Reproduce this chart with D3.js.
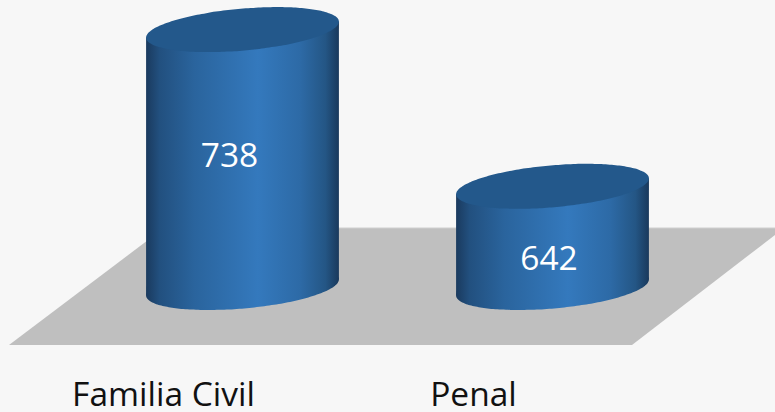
<!DOCTYPE html>
<html>
<head>
<meta charset="utf-8">
<script src="https://cdn.jsdelivr.net/npm/d3@7/dist/d3.min.js"></script>
<style>
  html, body { margin: 0; padding: 0; background: #f7f7f7; }
  svg { display: block; }
  text { font-family: "Open Sans", "Noto Sans", sans-serif; }
</style>
</head>
<body>
<script>
// Cases by jurisdiction
const categories = ["Familia Civil", "Penal"];
const values = [738, 642];
const axisMin = 580;
const axisMax = 760;

const W = 775, H = 412;
const svg = d3.select("body").append("svg")
  .attr("width", W).attr("height", H);

svg.append("rect").attr("width", W).attr("height", H).attr("fill", "#f7f7f7");

const x = d3.scalePoint().domain(categories).range([87.5, 707.5]).padding(0.5);
const y = d3.scaleLinear().domain([axisMin, axisMax]).range([287.5, -6.3]);

const step = x.step();
const halfW = step * 0.311;      // horizontal half-extent of each cylinder
const halfH = 22.5;              // vertical half-extent of each ellipse
const tilt = 8;                  // side tangent points drop left / rise right

// rotated ellipse parameters from the extents
const sum = halfW * halfW + halfH * halfH;
const cross = -tilt * halfW;
const twoTheta = Math.atan2(2 * cross, halfW * halfW - halfH * halfH);
const theta = twoTheta / 2;
const diff = (halfW * halfW - halfH * halfH) / Math.cos(twoTheta);
const rx = Math.sqrt((sum + diff) / 2);
const ry = Math.sqrt((sum - diff) / 2);

// ellipse outline in absolute page coordinates
function ellipsePath(cx, cy) {
  const pts = d3.range(0, 361, 3).map(a => {
    const t = a * Math.PI / 180;
    const ex = rx * Math.cos(t), ey = ry * Math.sin(t);
    return [cx + ex * Math.cos(theta) - ey * Math.sin(theta),
            cy + ex * Math.sin(theta) + ey * Math.cos(theta)];
  });
  return d3.line().curve(d3.curveCardinalClosed)(pts.slice(0, -1));
}

// floor plane
const base = y(axisMin);
const floor = [[9, 345], [632, 345], [784, 228], [164, 228]];
svg.append("path")
  .attr("d", d3.line()(floor) + "Z")
  .attr("fill", "#bfbfbf");
svg.append("line")
  .attr("x1", 164).attr("x2", 775).attr("y1", 228).attr("y2", 228)
  .attr("stroke", "#cfcfcf").attr("stroke-width", 1);

const defs = svg.append("defs");
const stops = [
  [0, "#1a3a5e"], [0.07, "#22507f"], [0.25, "#2a649d"],
  [0.58, "#3479bd"], [0.8, "#2d6aa6"], [0.93, "#245685"], [1, "#1a395c"]
];

const data = categories.map((c, i) => ({ cat: c, value: values[i], i }));

const g = svg.selectAll("g.bar").data(data).join("g").attr("class", "bar");

g.each(function (d) {
  const sel = d3.select(this);
  const cx = x(d.cat);
  const yt = y(d.value);
  const id = "grad" + d.i;
  const grad = defs.append("linearGradient").attr("id", id)
    .attr("gradientUnits", "userSpaceOnUse")
    .attr("x1", cx - halfW).attr("x2", cx + halfW).attr("y1", 0).attr("y2", 0);
  stops.forEach(s => grad.append("stop").attr("offset", s[0]).attr("stop-color", s[1]));

  // bottom cap
  sel.append("path")
    .attr("d", ellipsePath(cx, base))
    .attr("fill", `url(#${id})`);
  // side
  sel.append("path")
    .attr("d", d3.line()([
      [cx - halfW, yt + tilt], [cx + halfW, yt - tilt],
      [cx + halfW, base - tilt], [cx - halfW, base + tilt]
    ]) + "Z")
    .attr("fill", `url(#${id})`);
  // top cap
  sel.append("path")
    .attr("d", ellipsePath(cx, yt))
    .attr("fill", "#23588b");

  // value label
  const ly = yt + 0.3376 * (base - yt) + 37;
  const lx = cx + (cx - 667) * 0.0306;
  sel.append("text")
    .attr("x", lx).attr("y", ly)
    .attr("text-anchor", "middle").attr("dominant-baseline", "central")
    .attr("font-size", 33.5).attr("fill", "#ffffff")
    .text(d.value);

  // category label
  sel.append("text")
    .attr("x", cx - 79).attr("y", 406)
    .attr("text-anchor", "middle")
    .attr("font-size", 33.5).attr("fill", "#111111")
    .text(d.cat);
});
</script>
</body>
</html>
